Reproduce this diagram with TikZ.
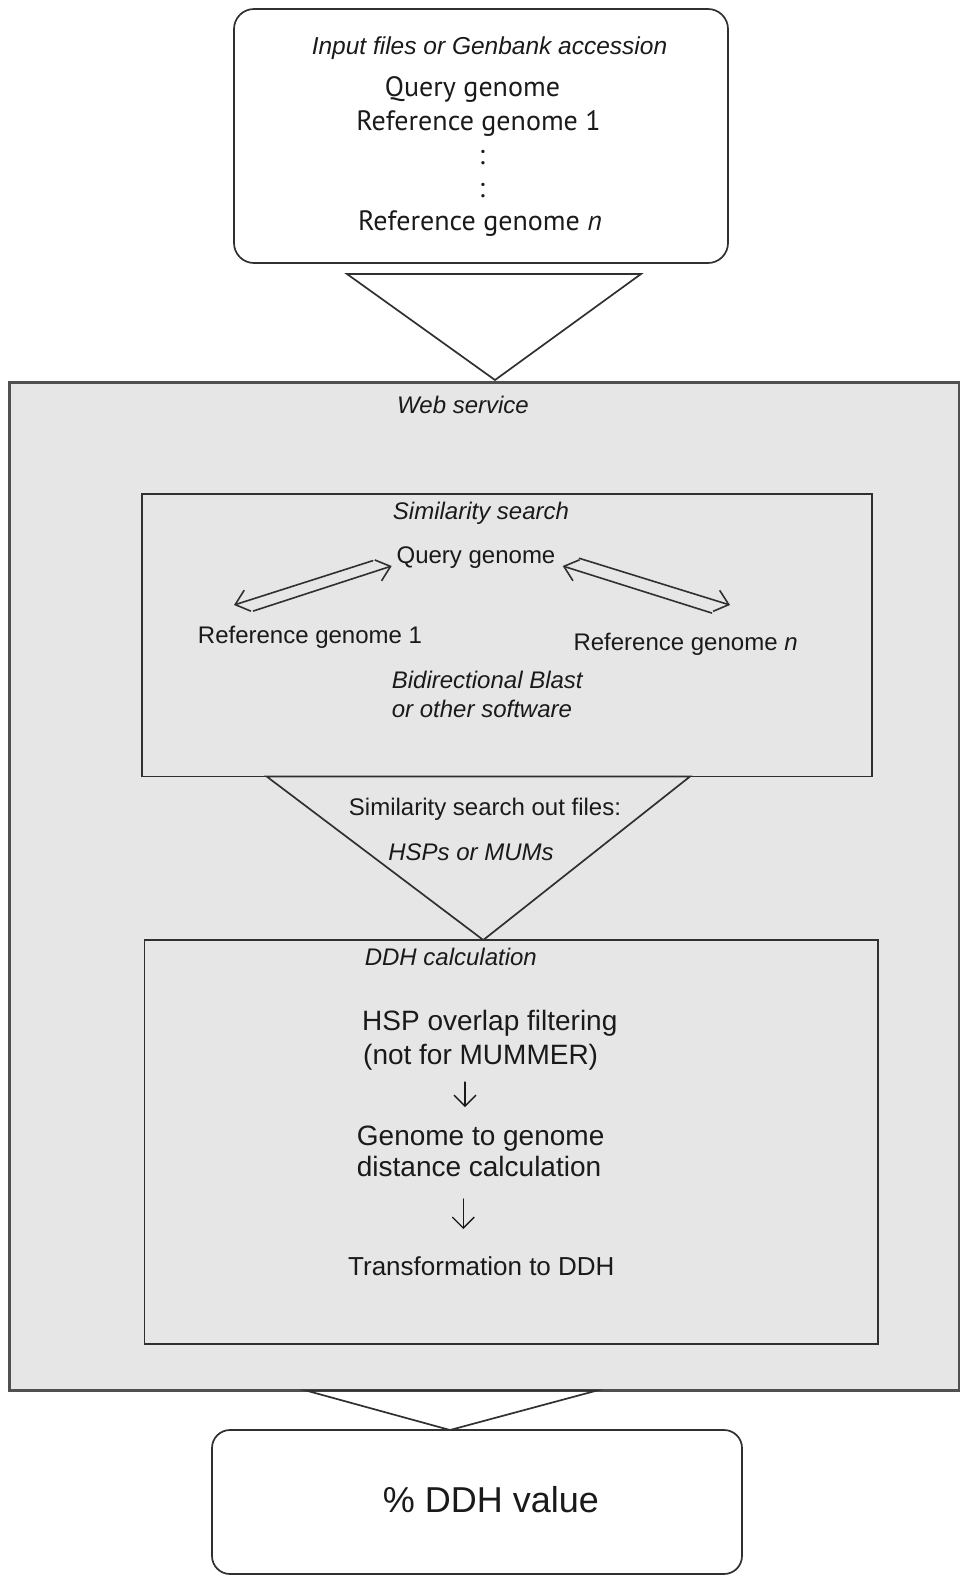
\documentclass[tikz,border=0pt]{standalone}
\usepackage{fontspec}
\setmainfont{Liberation Sans}
\newfontfamily\topfont{PT Sans}
\usetikzlibrary{arrows.meta}
\definecolor{ink}{HTML}{1A1A1A}
\definecolor{edge}{HTML}{303030}
\definecolor{webedge}{HTML}{505050}
\definecolor{panel}{HTML}{E6E6E6}
\begin{document}
\begin{tikzpicture}[x=1pt,y=-1pt,
  txt/.style={inner sep=0pt, anchor=base, text=ink, font=\fontsize{24}{28}\selectfont},
  itx/.style={txt, font=\fontsize{24}{28}\selectfont\itshape},
  toptxt/.style={txt, font=\topfont\fontsize{28}{30}\selectfont},
  steptxt/.style={txt, anchor=base west, font=\fontsize{28}{32}\selectfont},
  roundbox/.style={draw=edge, line width=1.7pt, fill=white, rounded corners=20pt, inner sep=0pt},
  plainbox/.style={draw=edge, line width=1.7pt, fill=panel, inner sep=0pt},
  funnel/.style={draw=edge, line width=1.7pt, line join=miter},
  arr/.style={draw=edge, line width=1.6pt, line cap=round,
    -{Straight Barb[length=13pt,width=22pt,line width=1.6pt]}},
  downarr/.style={draw=ink, line width=1.3pt, line cap=round,
    -{Straight Barb[length=11pt,width=22pt,line width=1.3pt]}}
]
\useasboundingbox (0,0) rectangle (960,1575);

% ---- input box
\node[roundbox, minimum width=494pt, minimum height=254pt] (input) at (481,136) {};
\node[itx, font=\fontsize{24.5}{28}\selectfont\itshape] (inTitle) at (489.5,54) {Input files or Genbank accession};
\node[toptxt] (inQuery) at (472.5,96.7) {Query genome};
\node[toptxt] (inRef1) at (478.5,130) {Reference genome 1};
\node[toptxt] (inDots1) at (482,164) {:};
\node[toptxt] (inDots2) at (482,197) {:};
\node[toptxt] (inRefn) at (480,230.7) {Reference genome \textit{n}};

% ---- funnel 1
\draw[funnel] (347,274) -- (641,274) -- (495,380) -- cycle;

% ---- web service panel
\node[draw=webedge, line width=2.5pt, fill=panel, inner sep=0pt,
  minimum width=949.5pt, minimum height=1008pt] (web) at (484.25,886.5) {};
\node[itx] (webTitle) at (463,413) {Web service};

% ---- similarity search box
\node[plainbox, minimum width=730pt, minimum height=282.5pt] (sim) at (507,635.25) {};
\node[itx] (simTitle) at (481,519) {Similarity search};
\node[txt] (qg) at (476,563) {Query genome};
\node[txt] (rg1) at (310,643) {Reference genome 1};
\node[txt] (rgn) at (685.6,650) {Reference genome \textit{n}};
\node[itx, anchor=base west] (bb) at (391.7,688) {Bidirectional Blast};
\node[itx, anchor=base west] (oo) at (391.7,717) {or other software};

\coordinate (l1s) at (372.7,560.7);
\coordinate (l1e) at (234,605);
\coordinate (l2s) at (253.3,611);
\coordinate (l2e) at (391.7,566);
\coordinate (r1s) at (579.3,558.3);
\coordinate (r1e) at (730,605);
\coordinate (r2s) at (711.7,613);
\coordinate (r2e) at (562.7,566);
\draw[arr] (l1s) -- (l1e);
\draw[arr] (l2s) -- (l2e);
\draw[arr] (r1s) -- (r1e);
\draw[arr] (r2s) -- (r2e);

% ---- funnel 2
\draw[funnel] (266.7,776.5) -- (690,776.5) -- (483.3,940) -- cycle;
\node[txt] (outfiles) at (485,815) {Similarity search out files:};
\node[itx] (hm) at (471,860) {HSPs or MUMs};

% ---- DDH calculation box
\node[plainbox, minimum width=733.4pt, minimum height=404pt] (ddh) at (511.3,1142) {};
\node[itx, anchor=base west] (ddhTitle) at (364.6,965) {DDH calculation};
\node[steptxt] (s1a) at (362,1030) {HSP overlap filtering};
\node[steptxt] (s1b) at (363,1064) {(not for MUMMER)};
\coordinate (a1s) at (465,1082);
\coordinate (a1e) at (465,1107);
\draw[downarr] (a1s) -- (a1e);
\node[steptxt] (s2a) at (356.7,1145) {Genome to genome};
\node[steptxt] (s2b) at (356.7,1176) {distance calculation};
\coordinate (a2s) at (463.3,1199);
\coordinate (a2e) at (463.3,1229);
\draw[downarr] (a2s) -- (a2e);
\node[steptxt, font=\fontsize{26}{30}\selectfont] (s3) at (348,1275) {Transformation to DDH};

% ---- funnel 3
\draw[funnel] (306,1390.5) -- (597,1390.5) -- (450,1430) -- cycle;

% ---- result box
\node[roundbox, rounded corners=18pt, minimum width=530pt, minimum height=144pt] (result) at (477,1502) {};
\node[txt, font=\fontsize{36}{40}\selectfont] (resText) at (491,1512) {\% DDH value};
\end{tikzpicture}
\end{document}
